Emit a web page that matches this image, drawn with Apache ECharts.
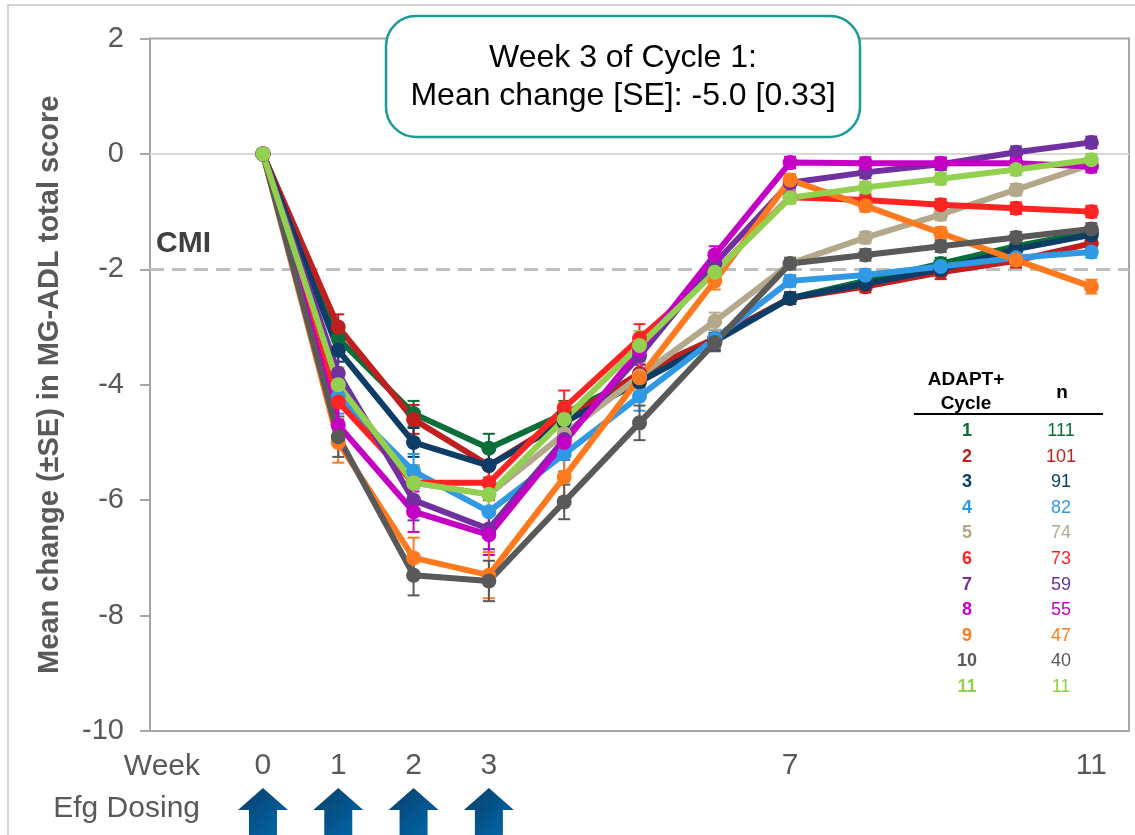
<!DOCTYPE html>
<html><head><meta charset="utf-8">
<script src="https://cdn.jsdelivr.net/npm/echarts@6/dist/echarts.min.js"></script>
<style>html,body{margin:0;padding:0;background:#fff}#c{width:1135px;height:835px}</style>
</head><body><div id="c"></div>
<script>
// ---- data ----
const weeks = [0,1,2,3,4,5,6,7,8,9,10,11];
const xTickLabels = [0,1,2,3,7,11];
const dosingWeeks = [0,1,2,3];
const cycleLabels = ['1','2','3','4','5','6','7','8','9','10','11'];
const nValues = [111,101,91,82,74,73,59,55,47,40,11];
const cycleColors = ['#0a6e3a','#c01f1f','#0c3d66','#2f99e6','#b3a98a','#ff2424','#7030a0','#c400c4','#ff7a1e','#595959','#92d050'];

const meanCycle1  = [0,-3.2,-4.5,-5.1,-4.5,-3.85,-3.2,-2.5,-2.2,-1.9,-1.6,-1.35];
const meanCycle2  = [0,-3.0,-4.6,-5.4,-4.6,-3.8,-3.2,-2.5,-2.3,-2.05,-1.85,-1.55];
const meanCycle3  = [0,-3.4,-5.0,-5.4,-4.65,-3.95,-3.25,-2.5,-2.25,-2.0,-1.65,-1.4];
const meanCycle4  = [0,-4.2,-5.5,-6.2,-5.2,-4.2,-3.2,-2.2,-2.1,-1.95,-1.8,-1.7];
const meanCycle5  = [0,-4.0,-5.7,-5.9,-4.85,-3.85,-2.9,-1.9,-1.45,-1.05,-0.62,-0.18];
const meanCycle6  = [0,-4.3,-5.7,-5.7,-4.4,-3.2,-2.05,-0.75,-0.8,-0.88,-0.94,-1.0];
const meanCycle7  = [0,-3.8,-6.0,-6.5,-4.95,-3.5,-1.9,-0.5,-0.32,-0.18,0.03,0.2];
const meanCycle8  = [0,-4.7,-6.2,-6.6,-5.0,-3.4,-1.75,-0.15,-0.16,-0.16,-0.16,-0.22];
const meanCycle9  = [0,-5.0,-7.0,-7.3,-5.6,-3.88,-2.2,-0.45,-0.9,-1.37,-1.84,-2.3];
const meanCycle10 = [0,-4.9,-7.3,-7.4,-6.03,-4.66,-3.27,-1.9,-1.75,-1.6,-1.45,-1.3];
const meanCycle11 = [0,-4.0,-5.7,-5.9,-4.6,-3.32,-2.05,-0.76,-0.58,-0.43,-0.27,-0.1];

const seCycle1  = [0,0.2,0.22,0.25,0.22,0.2,0.15,0.1,0.1,0.1,0.1,0.1];
const seCycle2  = [0,0.22,0.25,0.27,0.25,0.22,0.15,0.1,0.1,0.12,0.12,0.12];
const seCycle3  = [0,0.2,0.25,0.27,0.25,0.2,0.15,0.1,0.1,0.1,0.1,0.1];
const seCycle4  = [0,0.3,0.3,0.3,0.3,0.25,0.15,0.1,0.1,0.1,0.1,0.1];
const seCycle5  = [0,0.3,0.3,0.3,0.3,0.25,0.15,0.1,0.1,0.1,0.1,0.1];
const seCycle6  = [0,0.3,0.3,0.3,0.3,0.25,0.15,0.1,0.1,0.1,0.1,0.1];
const seCycle7  = [0,0.3,0.35,0.35,0.3,0.25,0.15,0.1,0.1,0.1,0.1,0.1];
const seCycle8  = [0,0.3,0.35,0.35,0.3,0.25,0.15,0.1,0.1,0.1,0.1,0.1];
const seCycle9  = [0,0.35,0.35,0.4,0.35,0.3,0.15,0.1,0.1,0.1,0.1,0.12];
const seCycle10 = [0,0.35,0.35,0.35,0.3,0.3,0.15,0.1,0.1,0.1,0.1,0.1];
const seCycle11 = [0,0.3,0.3,0.3,0.3,0.25,0.15,0.1,0.1,0.1,0.1,0.1];

const cmiValue = -2;
const annotationLines = ['Week 3 of Cycle 1:', 'Mean change [SE]: -5.0 [0.33]'];

// ---- build ----
const means = [meanCycle1,meanCycle2,meanCycle3,meanCycle4,meanCycle5,meanCycle6,meanCycle7,meanCycle8,meanCycle9,meanCycle10,meanCycle11];
const ses = [seCycle1,seCycle2,seCycle3,seCycle4,seCycle5,seCycle6,seCycle7,seCycle8,seCycle9,seCycle10,seCycle11];
const FONT = '"Liberation Sans", Arial, sans-serif';
const chart = echarts.init(document.getElementById('c'), null, {renderer:'canvas'});

const series = [];
means.forEach((m, i) => {
  const col = cycleColors[i];
  const errData = [];
  weeks.forEach((w, j) => { if (ses[i][j] > 0) errData.push([w, m[j] - ses[i][j], m[j] + ses[i][j]]); });
  series.push({
    type: 'custom', name: 'err' + cycleLabels[i], data: errData, z: 3, silent: true,
    encode: {x: 0, y: [1, 2]},
    renderItem: (params, api) => {
      const x = api.value(0);
      const lo = api.coord([x, api.value(1)]);
      const hi = api.coord([x, api.value(2)]);
      const hw = 6;
      const st = {stroke: col, lineWidth: 2};
      return {type: 'group', children: [
        {type: 'line', shape: {x1: lo[0], y1: lo[1], x2: hi[0], y2: hi[1]}, style: st},
        {type: 'line', shape: {x1: lo[0]-hw, y1: lo[1], x2: lo[0]+hw, y2: lo[1]}, style: st},
        {type: 'line', shape: {x1: hi[0]-hw, y1: hi[1], x2: hi[0]+hw, y2: hi[1]}, style: st}
      ]};
    }
  });
  series.push({
    type: 'line', name: 'Cycle ' + cycleLabels[i], z: 3,
    data: weeks.map((w, j) => [w, m[j]]),
    symbol: 'circle', symbolSize: 15, showSymbol: true,
    lineStyle: {color: col, width: 6},
    itemStyle: {color: col},
    emphasis: {disabled: true},
    markLine: i === 0 ? {
      silent: true, symbol: 'none', label: {show: false}, z: 1,
      data: [
        {yAxis: 0, lineStyle: {color: '#d9d9d9', width: 2, type: 'solid'}},
        {yAxis: cmiValue, lineStyle: {color: '#bfbfbf', width: 3, type: [14, 8]}}
      ]
    } : undefined
  });
});

// dosing arrows below the axis
series.push({
  type: 'scatter', name: 'dosing', clip: false, silent: true, z: 5,
  data: dosingWeeks.map(w => [w, -10]),
  symbol: 'path://M25,0 L50,22 L39,22 L39,48 L11,48 L11,22 L0,22 Z',
  symbolSize: [50, 48], symbolOffset: [0, 81],
  itemStyle: {opacity: 1, color: new echarts.graphic.LinearGradient(0, 0, 1, 1, [
    {offset: 0, color: '#093f68'}, {offset: 1, color: '#0068ad'}
  ])}
});

const graphics = [
  {type: 'rect', z: 0, shape: {x: 8, y: 5, width: 1200, height: 900}, style: {fill: 'none', stroke: '#d3d3d3', lineWidth: 2}},
  {type: 'rect', z: 50, shape: {x: 386, y: 16, width: 474, height: 121, r: 30}, style: {fill: '#fff', stroke: '#1a9c92', lineWidth: 2.5}},
  {type: 'text', z: 51, x: 623, y: 58, style: {text: annotationLines[0], font: '32px ' + FONT, fill: '#000', textAlign: 'center', textVerticalAlign: 'middle'}},
  {type: 'text', z: 51, x: 623, y: 96, style: {text: annotationLines[1], font: '32px ' + FONT, fill: '#000', textAlign: 'center', textVerticalAlign: 'middle'}},
  {type: 'text', z: 51, x: 156, y: 244, style: {text: 'CMI', font: 'bold 30px ' + FONT, fill: '#404040', textAlign: 'left', textVerticalAlign: 'middle'}},
  {type: 'text', z: 51, x: 200, y: 767, style: {text: 'Week', font: '30px ' + FONT, fill: '#595959', textAlign: 'right', textVerticalAlign: 'middle'}},
  {type: 'text', z: 51, x: 200, y: 809, style: {text: 'Efg Dosing', font: '30px ' + FONT, fill: '#595959', textAlign: 'right', textVerticalAlign: 'middle'}},
  {type: 'text', z: 51, x: 966, y: 380, style: {text: 'ADAPT+', font: 'bold 19px ' + FONT, fill: '#000', textAlign: 'center', textVerticalAlign: 'middle'}},
  {type: 'text', z: 51, x: 966, y: 404, style: {text: 'Cycle', font: 'bold 19px ' + FONT, fill: '#000', textAlign: 'center', textVerticalAlign: 'middle'}},
  {type: 'text', z: 51, x: 1062, y: 393, style: {text: 'n', font: 'bold 19px ' + FONT, fill: '#000', textAlign: 'center', textVerticalAlign: 'middle'}},
  {type: 'line', z: 51, shape: {x1: 914, y1: 414, x2: 1103, y2: 414}, style: {stroke: '#000', lineWidth: 2}}
];
cycleLabels.forEach((c, i) => {
  const y = 431 + i * 25.6;
  graphics.push({type: 'text', z: 51, x: 967, y: y, style: {text: c, font: 'bold 18px ' + FONT, fill: cycleColors[i], textAlign: 'center', textVerticalAlign: 'middle'}});
  graphics.push({type: 'text', z: 51, x: 1061, y: y, style: {text: String(nValues[i]), font: '18px ' + FONT, fill: cycleColors[i], textAlign: 'center', textVerticalAlign: 'middle'}});
});

chart.setOption({
  animation: false,
  backgroundColor: '#fff',
  grid: {left: 150, right: 6, top: 38.5, bottom: 104, show: true, borderColor: '#a6a6a6', borderWidth: 2, containLabel: false},
  xAxis: {
    type: 'value', min: -1.5, max: 11.5,
    axisLine: {show: true, onZero: false, lineStyle: {color: '#a6a6a6', width: 2}},
    axisTick: {show: false},
    splitLine: {show: false},
    axisLabel: {customValues: xTickLabels, fontSize: 30, fontFamily: FONT, color: '#595959', margin: 20}
  },
  yAxis: {
    type: 'value', min: -10, max: 2, interval: 2,
    name: 'Mean change (\u00b1SE) in MG-ADL total score', nameLocation: 'middle', nameGap: 86,
    nameTextStyle: {fontSize: 29, fontWeight: 'bold', fontFamily: FONT, color: '#595959'},
    axisLine: {show: true, onZero: false, lineStyle: {color: '#a6a6a6', width: 2}},
    axisTick: {show: true, inside: false, length: 10, lineStyle: {color: '#a6a6a6', width: 2}},
    splitLine: {show: false},
    axisLabel: {fontSize: 29, fontFamily: FONT, color: '#595959', margin: 26}
  },
  graphic: graphics,
  series: series
});
</script>
</body></html>
